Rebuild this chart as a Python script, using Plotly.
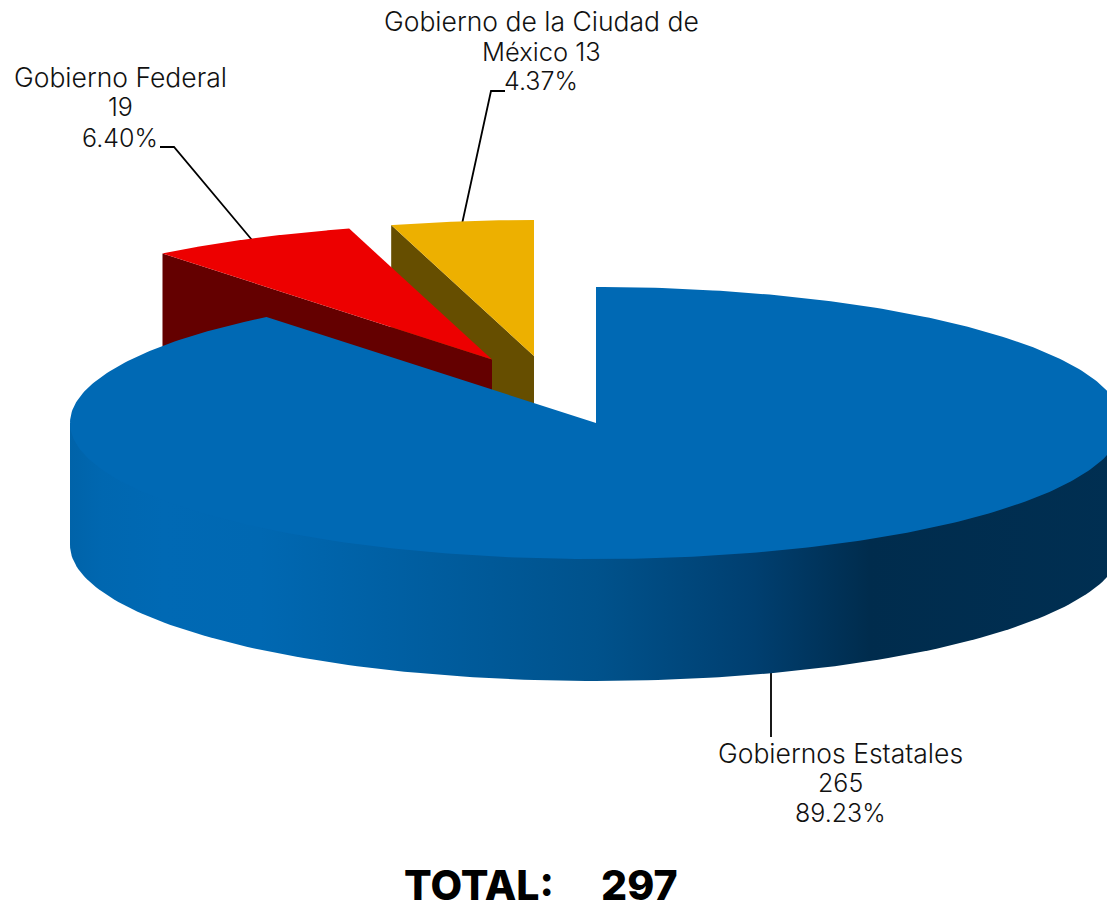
import math
import plotly.graph_objects as go

# ---- data ----
categories = ["Gobiernos Estatales", "Gobierno Federal", "Gobierno de la Ciudad de México"]
values = [265, 19, 13]
percent_labels = ["89.23%", "6.40%", "4.37%"]
total_word = "TOTAL:"
total_value = 297

# ---- styling and geometry of the 3D pie (pixel-like plot units) ----
top_colors = ["#0069B4", "#ED0000", "#EDB000"]
wall_colors = [None, "#640000", "#664E00"]
CX, CY, RX, RY, DEPTH = 596, 423, 526, 136, 122
explode = [(0, 0), (-104, -63.5), (-62, -67)]
FONT = "Inter"
FS = 26.5
FS_NUM = 25
W, H = 1107, 910

total = sum(values)
starts, running = [], 0.0
for v in values:
    starts.append(running)
    running += v
angles = [(s / total * 2 * math.pi, (s + v) / total * 2 * math.pi) for s, v in zip(starts, values)]


def rim(a0, a1, cx, cy, n=160):
    xs, ys = [], []
    for i in range(n + 1):
        a = a0 + (a1 - a0) * i / n
        xs.append(cx + RX * math.sin(a))
        ys.append(cy - RY * math.cos(a))
    return xs, ys


def poly(xs, ys, color):
    return go.Scatter(x=xs, y=ys, mode="lines", fill="toself", fillcolor=color,
                      line=dict(width=0), hoverinfo="skip", showlegend=False)


fig = go.Figure()

# leader lines
leaders = [
    ([771, 771], [672, 737]),
    ([160, 174, 252], [147, 147, 240]),
    ([505, 491, 462], [91, 91, 224]),
]
for lx, ly in leaders:
    fig.add_trace(go.Scatter(x=lx, y=ly, mode="lines", line=dict(color="#000000", width=1.8),
                             hoverinfo="skip", showlegend=False))

# yellow then red exploded slices: inner cut wall, then top face
for idx in (2, 1):
    dx, dy = explode[idx]
    ax, ay = CX + dx, CY + dy
    a0, a1 = angles[idx]
    ex, ey = rim(a0, a0, ax, ay, 1)
    fig.add_trace(poly([ex[0], ax, ax, ex[0], ex[0]],
                       [ey[0], ay, ay + DEPTH, ey[0] + DEPTH, ey[0]], wall_colors[idx]))
    rx_, ry_ = rim(a0, a1, ax, ay)
    fig.add_trace(poly([ax] + rx_ + [ax], [ay] + ry_ + [ay], top_colors[idx]))

# main slice: outer wall with horizontal gradient (runs under the top face), then top face
wx, wy = rim(math.pi / 2, 3 * math.pi / 2, CX, CY)
fig.add_trace(go.Scatter(
    x=[wx[0]] + wx + [wx[-1], wx[0]],
    y=[CY] + [y + DEPTH for y in wy] + [CY, CY],
    mode="lines", fill="toself",
    fillgradient=dict(type="horizontal", colorscale=[
        [0.0, "#0063A9"], [0.03, "#0067B0"], [0.09, "#0069B4"], [0.18, "#0068B2"], [0.30, "#0060A4"],
        [0.50, "#00528C"], [0.65, "#003F70"], [0.76, "#002C4D"], [1.0, "#002F52"]]),
    line=dict(width=0), hoverinfo="skip", showlegend=False))
a0, a1 = angles[0]
rx_, ry_ = rim(a0, a1, CX, CY, 400)
fig.add_trace(poly([CX] + rx_ + [CX], [CY] + ry_ + [CY], top_colors[0]))

# labels, one annotation per line so the line pitch can match
ciudad = categories[2].rsplit(" ", 1)
labels = [
    (840, [753, 783, 813], [categories[0], str(values[0]), percent_labels[0]], [FS, FS_NUM, FS_NUM]),
    (120, [77, 107, 138], [categories[1], str(values[1]), percent_labels[1]], [FS, FS_NUM, FS_NUM]),
    (541, [21, 51, 81], [ciudad[0], f"{ciudad[1]} {values[2]}", percent_labels[2]], [FS, FS_NUM + 0.5, FS_NUM]),
]
for x, ys, lines, sizes in labels:
    for y, t, s in zip(ys, lines, sizes):
        fig.add_annotation(x=x, y=y, text=t, showarrow=False, xanchor="center", yanchor="middle",
                           font=dict(family=FONT, size=s, color="#111111", weight=300))
for x, t in ((479, total_word), (639, str(total_value))):
    fig.add_annotation(x=x, y=885, text=t, showarrow=False, xanchor="center", yanchor="middle",
                       font=dict(family=FONT, size=41, color="#000000", weight=800))

fig.update_layout(
    width=W, height=H, margin=dict(l=0, r=0, t=0, b=0),
    paper_bgcolor="#FFFFFF", plot_bgcolor="#FFFFFF", showlegend=False,
    xaxis=dict(range=[0, W], visible=False, fixedrange=True),
    yaxis=dict(range=[H, 0], visible=False, fixedrange=True),
)
fig.write_html("out.html", config=dict(displayModeBar=False),
               post_script="document.body.style.margin='0';document.body.style.overflow='hidden';")
